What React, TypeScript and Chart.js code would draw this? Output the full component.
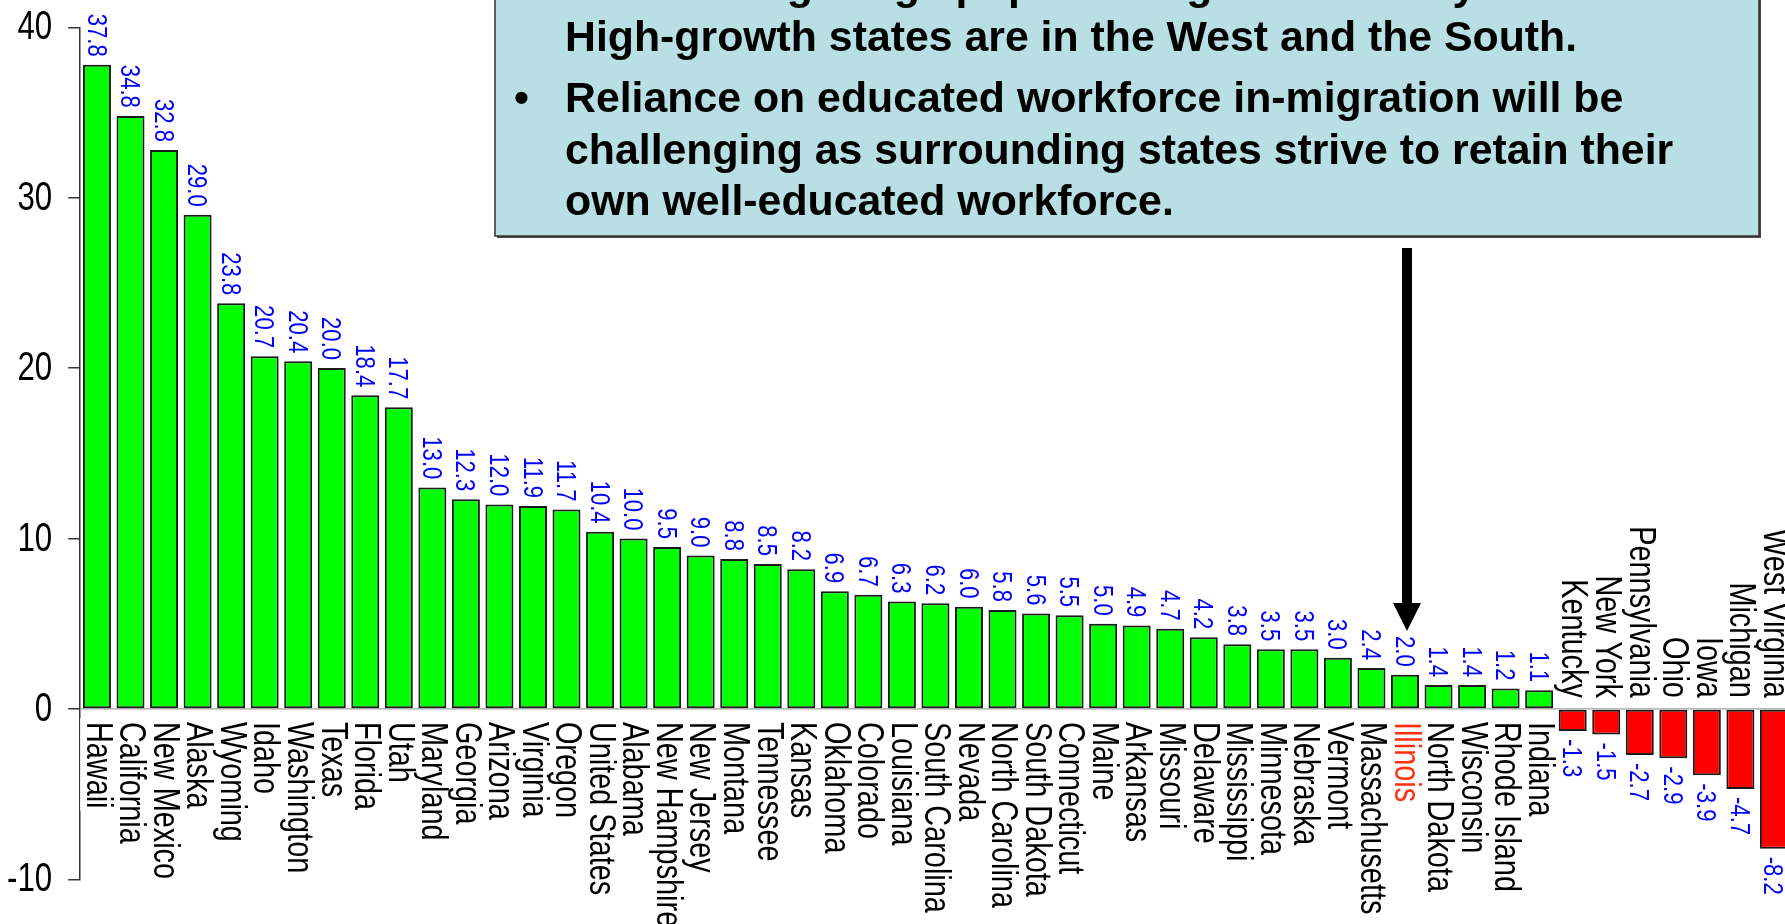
import React, { useEffect, useRef } from "react";
import { Chart, registerables } from "chart.js";

Chart.register(...registerables);

// ---- data ----
const states: string[] = [
  "Hawaii", "California", "New Mexico", "Alaska", "Wyoming", "Idaho", "Washington", "Texas",
  "Florida", "Utah", "Maryland", "Georgia", "Arizona", "Virginia", "Oregon", "United States",
  "Alabama", "New Hampshire", "New Jersey", "Montana", "Tennessee", "Kansas", "Oklahoma",
  "Colorado", "Louisiana", "South Carolina", "Nevada", "North Carolina", "South Dakota",
  "Connecticut", "Maine", "Arkansas", "Missouri", "Delaware", "Mississippi", "Minnesota",
  "Nebraska", "Vermont", "Massachusetts", "Illinois", "North Dakota", "Wisconsin",
  "Rhode Island", "Indiana", "Kentucky", "New York", "Pennsylvania", "Ohio", "Iowa",
  "Michigan", "West Virginia",
];
const values: number[] = [
  37.8, 34.8, 32.8, 29.0, 23.8, 20.7, 20.4, 20.0, 18.4, 17.7, 13.0, 12.3, 12.0, 11.9, 11.7,
  10.4, 10.0, 9.5, 9.0, 8.8, 8.5, 8.2, 6.9, 6.7, 6.3, 6.2, 6.0, 5.8, 5.6, 5.5, 5.0, 4.9, 4.7,
  4.2, 3.8, 3.5, 3.5, 3.0, 2.4, 2.0, 1.4, 1.4, 1.2, 1.1, -1.3, -1.5, -2.7, -2.9, -3.9, -4.7,
  -8.2,
];
const yMin = -10;
const yMax = 40;
const yStep = 10;
const highlightState = "Illinois";
const noteBullet1: string[] = [
  "Illinois' long-range population growth is only moderate.",
  "High-growth states are in the West and the South.",
];
const noteBullet2: string[] = [
  "Reliance on educated workforce in-migration will be",
  "challenging as surrounding states strive to retain their",
  "own well-educated workforce.",
];

// ---- styles ----
const GREEN = "#00ff00";
const RED = "#ff0000";
const VALUE_BLUE = "#0000ff";
const HILITE = "#ff3010";
const CAT_FONT = '37px "Liberation Sans", Arial, sans-serif';
const CAT_SCALE = 0.78;
const VAL_FONT = '27px "Liberation Sans", Arial, sans-serif';
const VAL_SCALE = 0.82;
const TICK_FONT = '40px "Liberation Sans", Arial, sans-serif';
const TICK_SCALE = 0.78;
const NOTE_FONT = 'bold 42.8px "Liberation Sans", Arial, sans-serif';
const TICK_LEN = 12;
const TICK_PAD = 16;

function drawVText(
  ctx: CanvasRenderingContext2D,
  text: string,
  x: number,
  y: number,
  align: "left" | "right",
  color: string,
  font: string,
  sx: number
) {
  ctx.save();
  ctx.translate(x, y);
  ctx.rotate(Math.PI / 2);
  ctx.scale(sx, 1);
  ctx.font = font;
  ctx.fillStyle = color;
  ctx.textAlign = align;
  ctx.textBaseline = "middle";
  ctx.fillText(text, 0, 0);
  ctx.restore();
}

const zeroLinePlugin = {
  id: "zeroLine",
  beforeDatasetsDraw(chart: any) {
    const { ctx, chartArea } = chart;
    const y = chart.scales.y.getPixelForValue(0);
    ctx.save();
    ctx.strokeStyle = "#a0a0a0";
    ctx.lineWidth = 1.2;
    ctx.beginPath();
    ctx.moveTo(chartArea.left, y);
    ctx.lineTo(chartArea.right, y);
    ctx.stroke();
    ctx.restore();
  },
};

const yLabelsPlugin = {
  id: "yLabels",
  afterDraw(chart: any) {
    const ctx: CanvasRenderingContext2D = chart.ctx;
    const ys = chart.scales.y;
    const x = ys.right - TICK_LEN - TICK_PAD;
    ctx.save();
    ctx.font = TICK_FONT;
    ctx.fillStyle = "#000000";
    ctx.textAlign = "right";
    ctx.textBaseline = "middle";
    ys.ticks.forEach((t: any) => {
      const y = ys.getPixelForValue(t.value);
      ctx.save();
      ctx.translate(x, y);
      ctx.scale(TICK_SCALE, 1);
      ctx.fillText(String(t.value), 0, 1);
      ctx.restore();
    });
    ctx.restore();
  },
};

const labelsPlugin = {
  id: "barLabels",
  afterDatasetsDraw(chart: any) {
    const ctx: CanvasRenderingContext2D = chart.ctx;
    const ys = chart.scales.y;
    const zero = ys.getPixelForValue(0);
    const meta = chart.getDatasetMeta(0);
    const step = chart.scales.x.width / states.length;
    ctx.save();
    ctx.font = CAT_FONT;
    meta.data.forEach((bar: any, i: number) => {
      const w = ctx.measureText(states[i]).width * CAT_SCALE;
      ctx.fillStyle = "#ffffff";
      if (values[i] >= 0) {
        ctx.fillRect(bar.x - step / 2, zero + 9, step, w + 6);
      }
    });
    ctx.restore();
    meta.data.forEach((bar: any, i: number) => {
      const v = values[i];
      const color = states[i] === highlightState ? HILITE : "#000000";
      const label = v.toFixed(1);
      if (v >= 0) {
        drawVText(ctx, states[i], bar.x, zero + 13, "left", color, CAT_FONT, CAT_SCALE);
        drawVText(ctx, label, bar.x - 2, bar.y - 8, "right", VALUE_BLUE, VAL_FONT, VAL_SCALE);
      } else {
        drawVText(ctx, states[i], bar.x, zero - 11, "right", color, CAT_FONT, CAT_SCALE);
        drawVText(ctx, label, bar.x - 2, bar.y + 8, "left", VALUE_BLUE, VAL_FONT, VAL_SCALE);
      }
    });
  },
};

const notePlugin = {
  id: "note",
  afterDraw(chart: any) {
    const ctx: CanvasRenderingContext2D = chart.ctx;
    const boxL = 495;
    const boxR = 1759;
    const boxT = -10;
    const boxB = 236;
    ctx.save();
    ctx.fillStyle = "#4a4a4a";
    ctx.fillRect(boxL + 2, boxT, boxR - boxL, boxB - boxT + 2);
    ctx.fillStyle = "#b8e0e4";
    ctx.fillRect(boxL, boxT, boxR - boxL, boxB - boxT);
    ctx.strokeStyle = "#333333";
    ctx.lineWidth = 1.5;
    ctx.strokeRect(boxL, boxT, boxR - boxL, boxB - boxT);

    ctx.fillStyle = "#000000";
    ctx.font = NOTE_FONT;
    ctx.textAlign = "left";
    ctx.textBaseline = "alphabetic";
    const textX = 565;
    const bulletX = 514;
    const lh = 51.5;
    let y = -1;
    ctx.fillText("\u2022", bulletX, y);
    noteBullet1.forEach((t, k) => ctx.fillText(t, textX, y + k * lh));
    y = 112;
    ctx.fillText("\u2022", bulletX, y);
    noteBullet2.forEach((t, k) => ctx.fillText(t, textX, y + k * lh));

    const idx = states.indexOf(highlightState);
    const ax = chart.scales.x.getPixelForValue(idx) + 2;
    ctx.fillStyle = "#000000";
    ctx.fillRect(ax - 5, 248, 10, 360);
    ctx.beginPath();
    ctx.moveTo(ax - 14, 603);
    ctx.lineTo(ax + 14, 603);
    ctx.lineTo(ax, 631);
    ctx.closePath();
    ctx.fill();
    ctx.restore();
  },
};

export default function App() {
  const ref = useRef<HTMLCanvasElement | null>(null);
  useEffect(() => {
    if (!ref.current) return;
    const chart = new Chart(ref.current, {
      type: "bar",
      data: {
        labels: states,
        datasets: [
          {
            data: values,
            backgroundColor: values.map((v) => (v >= 0 ? GREEN : RED)),
            borderColor: "#1a1a1a",
            borderWidth: 2,
            borderSkipped: false,
            barPercentage: 0.835,
            categoryPercentage: 1,
          },
        ],
      },
      options: {
        responsive: false,
        animation: false,
        devicePixelRatio: 1,
        layout: { padding: { left: 0, top: 27.3, right: 9.3, bottom: 44.7 } },
        plugins: { legend: { display: false }, tooltip: { enabled: false } },
        scales: {
          x: { type: "category", display: false, offset: true },
          y: {
            min: yMin,
            max: yMax,
            afterFit: (scale: any) => {
              scale.width = 80.2;
              scale.paddingTop = 0;
              scale.paddingBottom = 0;
            },
            ticks: {
              stepSize: yStep,
              padding: TICK_PAD,
              color: "rgba(0,0,0,0)",
              font: { size: 20 },
            },
            grid: {
              drawOnChartArea: false,
              drawTicks: true,
              tickLength: TICK_LEN,
              color: "#333333",
              lineWidth: 1.5,
            },
            border: { display: true, color: "#333333", width: 1.5 },
          },
        },
      },
      plugins: [zeroLinePlugin, labelsPlugin, notePlugin, yLabelsPlugin],
    });
    return () => chart.destroy();
  }, []);
  return (
    <div
      style={{
        position: "fixed",
        left: 0,
        top: 0,
        width: 1785,
        height: 924,
        overflow: "hidden",
        background: "#ffffff",
      }}
    >
      <canvas ref={ref} width={1800} height={924} style={{ width: 1800, height: 924, display: "block" }} />
    </div>
  );
}
